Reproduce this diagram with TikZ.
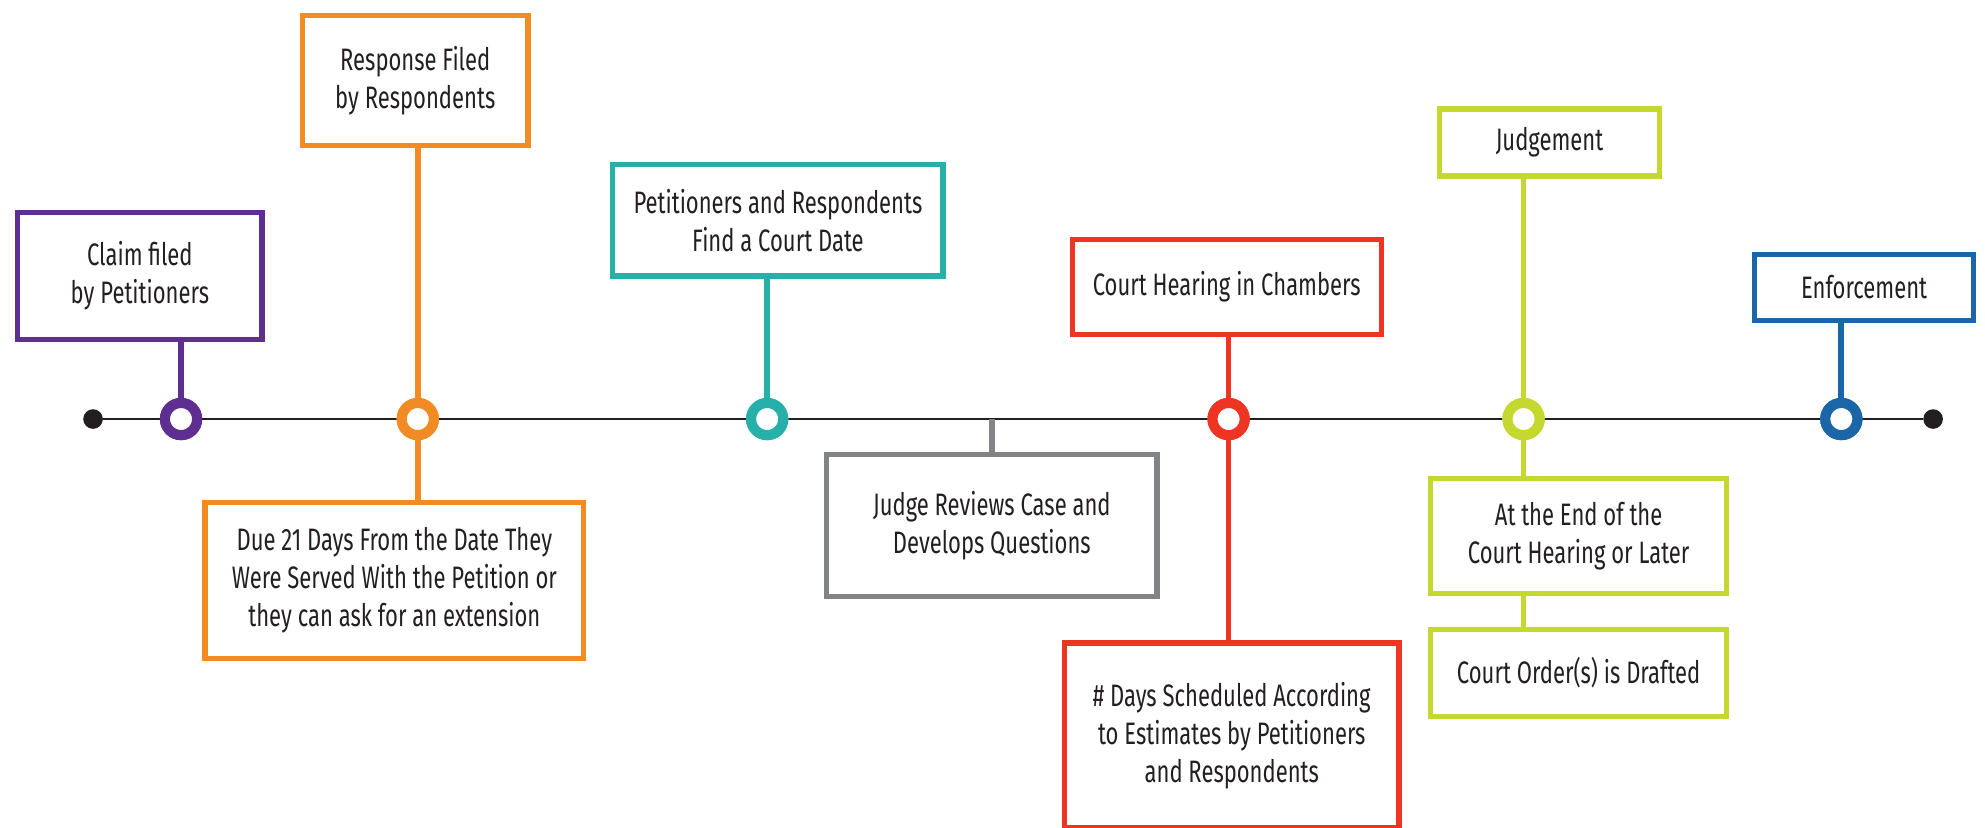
\documentclass[tikz,border=0pt]{standalone}
\usepackage{fontspec}
\setmainfont[FakeStretch=0.71]{Fira Sans}
\definecolor{pur}{HTML}{5E2E91}
\definecolor{org}{HTML}{F28B24}
\definecolor{tea}{HTML}{27B0A9}
\definecolor{gry}{HTML}{818386}
\definecolor{rd}{HTML}{EE3524}
\definecolor{lim}{HTML}{C4D82F}
\definecolor{blu}{HTML}{1B66A6}
\definecolor{txt}{HTML}{231F20}
\begin{document}
\begin{tikzpicture}[x=1pt,y=-1pt,
  box/.style={draw=#1, line width=4.2pt, fill=white, align=center, inner sep=0pt,
    font=\fontsize{24.5}{30}\selectfont, text=txt},
  stem/.style={draw=#1, line width=4.5pt},
  ring/.style={circle, draw=#1, line width=8pt, fill=white, minimum size=25.4pt, inner sep=0pt},
  enddot/.style={circle, fill=txt, minimum size=15.5pt, inner sep=0pt}]
\useasboundingbox (0,0) rectangle (1568,654);
% timeline
\node[enddot] (d1) at (73.5,331) {};
\node[enddot] (d2) at (1527,331) {};
\draw[txt, line width=2.1pt] (d1) -- (d2);
\coordinate (g) at (783.5,331);
% rings
\node[ring=pur] (r1) at (143,331) {};
\node[ring=org] (r2) at (330,331) {};
\node[ring=tea] (r3) at (606,331) {};
\node[ring=rd]  (r4) at (970.5,331) {};
\node[ring=lim] (r5) at (1203.5,331) {};
\node[ring=blu] (r6) at (1454.5,331) {};
% boxes
\node[box=pur, minimum width=193pt, minimum height=100pt] (b1) at (110.5,218) {Claim filed\\by Petitioners};
\node[box=org, minimum width=178pt, minimum height=103pt] (b2) at (328,63.5) {Response Filed\\by Respondents};
\node[box=org, minimum width=299pt, minimum height=123pt] (b3) at (311.5,458.5) {Due 21 Days From the Date They\\Were Served With the Petition or\\they can ask for an extension};
\node[box=tea, minimum width=261pt, minimum height=88pt] (b4) at (614.5,174) {Petitioners and Respondents\\Find a Court Date};
\node[box=gry, minimum width=261pt, minimum height=112pt] (b5) at (783.5,415) {Judge Reviews Case and\\Develops Questions};
\node[box=rd, minimum width=244pt, minimum height=75pt] (b6) at (969,226.5) {Court Hearing in Chambers};
\node[box=rd, minimum width=264pt, minimum height=146pt] (b7) at (973,581) {\# Days Scheduled According\\to Estimates by Petitioners\\and Respondents};
\node[box=lim, minimum width=174pt, minimum height=53pt] (b8) at (1224,112.5) {Judgement};
\node[box=lim, minimum width=234pt, minimum height=91pt] (b9) at (1247,423.5) {At the End of the\\Court Hearing or Later};
\node[box=lim, minimum width=234pt, minimum height=69pt] (b10) at (1247,531.5) {Court Order(s) is Drafted};
\node[box=blu, minimum width=173pt, minimum height=52pt] (b11) at (1472.5,227) {Enforcement};
% stems
\draw[stem=pur] (r1) -- (r1 |- b1.south);
\draw[stem=org] (r2) -- (r2 |- b2.south);
\draw[stem=org] (r2) -- (r2 |- b3.north);
\draw[stem=tea] (r3) -- (r3 |- b4.south);
\draw[stem=gry] (g) -- (g |- b5.north);
\draw[stem=rd] (r4) -- (r4 |- b6.south);
\draw[stem=rd] (r4) -- (r4 |- b7.north);
\draw[stem=lim] (r5) -- (r5 |- b8.south);
\draw[stem=lim] (r5) -- (r5 |- b9.north);
\draw[stem=lim] (b9.south -| r5) -- (b10.north -| r5);
\draw[stem=blu] (r6) -- (r6 |- b11.south);
% redraw rings over stem ends
\foreach \r/\c in {r1/pur,r2/org,r3/tea,r4/rd,r5/lim,r6/blu}{
  \node[ring=\c] at (\r) {};
}
\end{tikzpicture}
\end{document}
